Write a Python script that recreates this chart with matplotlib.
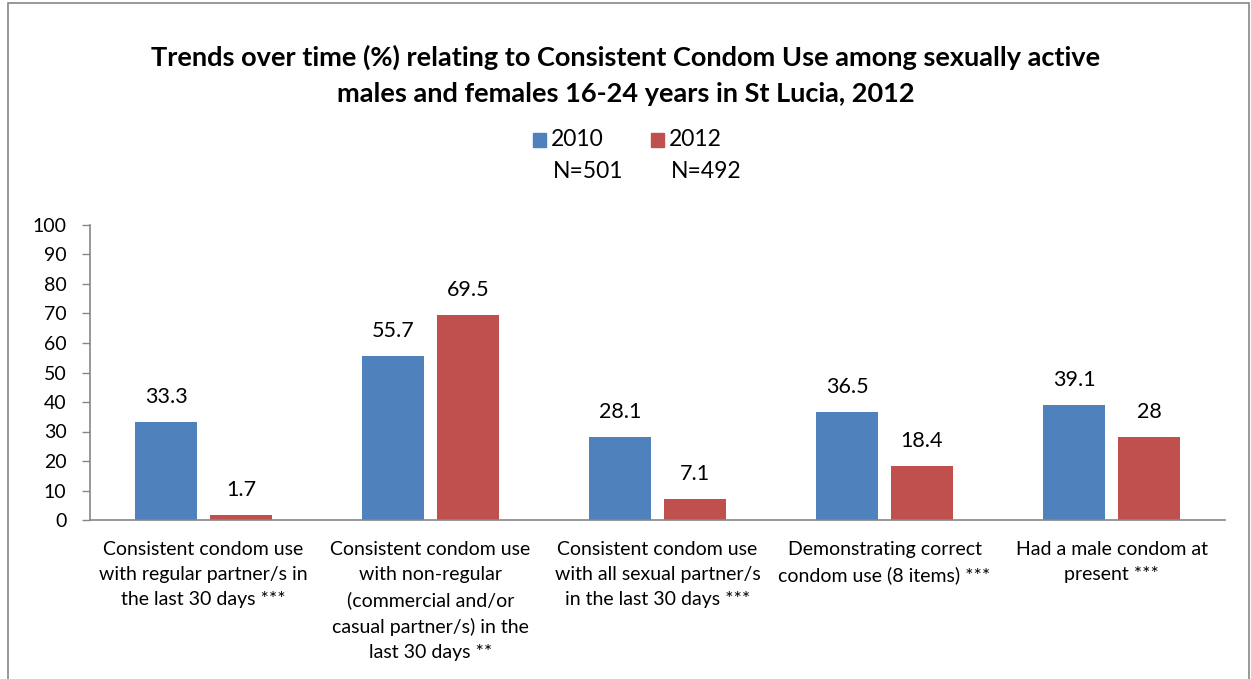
import matplotlib
matplotlib.use("Agg")
import matplotlib.pyplot as plt
from matplotlib.patches import Rectangle
import numpy as np

categories = [
    "Consistent condom use\nwith regular partner/s in\nthe last 30 days ***",
    "Consistent condom use\nwith non-regular\n(commercial and/or\ncasual partner/s) in the\nlast 30 days **",
    "Consistent condom use\nwith all sexual partner/s\nin the last 30 days ***",
    "Demonstrating correct\ncondom use (8 items) ***",
    "Had a male condom at\npresent ***",
]
values_2010 = [33.3, 55.7, 28.1, 36.5, 39.1]
values_2012 = [1.7, 69.5, 7.1, 18.4, 28]
labels_2010 = ["33.3", "55.7", "28.1", "36.5", "39.1"]
labels_2012 = ["1.7", "69.5", "7.1", "18.4", "28"]
series_names = ["2010", "2012"]
series_n = ["N=501", "N=492"]
title = ("Trends over time (%) relating to Consistent Condom Use among sexually active\n"
         "males and females 16-24 years in St Lucia, 2012")

plt.rcParams['font.family'] = ['Lato', 'DejaVu Sans']
BLUE = "#4F81BD"
RED = "#C0504D"
GRAY = "#868686"

W, H = 1251, 679
fig = plt.figure(figsize=(W / 100, H / 100), dpi=100)
ax = fig.add_axes([90 / W, (H - 520) / H, (1225 - 90) / W, (520 - 225) / H])

x = np.arange(len(categories))
bw = 0.27
off = 0.165
b1 = ax.bar(x - off, values_2010, bw, color=BLUE)
b2 = ax.bar(x + off, values_2012, bw, color=RED)
for bars, labs in ((b1, labels_2010), (b2, labels_2012)):
    for r, lab in zip(bars, labs):
        ax.annotate(lab, (r.get_x() + r.get_width() / 2, r.get_height()),
                    xytext=(0, 18), textcoords="offset points",
                    ha="center", va="center", fontsize=15.5, color="black")

ax.set_xlim(-0.5, len(categories) - 0.5)
ax.set_ylim(0, 100)
ax.set_yticks(range(0, 101, 10))
ax.set_xticks(x)
ax.set_xticklabels(categories, fontsize=14, linespacing=1.58, va="top")
ax.tick_params(axis="x", length=0, pad=15)
ax.tick_params(axis="y", length=6, width=1, color=GRAY, pad=11, labelsize=14)
for s in ("top", "right"):
    ax.spines[s].set_visible(False)
for s in ("left", "bottom"):
    ax.spines[s].set_color(GRAY)
    ax.spines[s].set_linewidth(1.2)

fig.text(0.5, (H - 75.5) / H, title, ha="center", va="center", fontsize=19.5,
         fontweight="bold", linespacing=1.6)

# legend (manual, two-line labels)
for i, (name, n, col) in enumerate(zip(series_names, series_n, (BLUE, RED))):
    x0 = [533, 651][i]
    fig.patches.append(Rectangle((x0 / W, (H - 147) / H), 13 / W, 14 / H,
                                 transform=fig.transFigure, color=col))
    fig.text((x0 + 18) / W, (H - 140) / H, name, ha="left", va="center", fontsize=16.5)
    fig.text((x0 + 20) / W, (H - 172) / H, n, ha="left", va="center", fontsize=16.5)

# outer chart border
fig.patches.append(Rectangle((8 / W, -0.05), (1249 - 8) / W, (H - 3) / H + 0.05,
                             transform=fig.transFigure, fill=False,
                             edgecolor=GRAY, linewidth=1.2))

fig.savefig("out.png", dpi=100)
